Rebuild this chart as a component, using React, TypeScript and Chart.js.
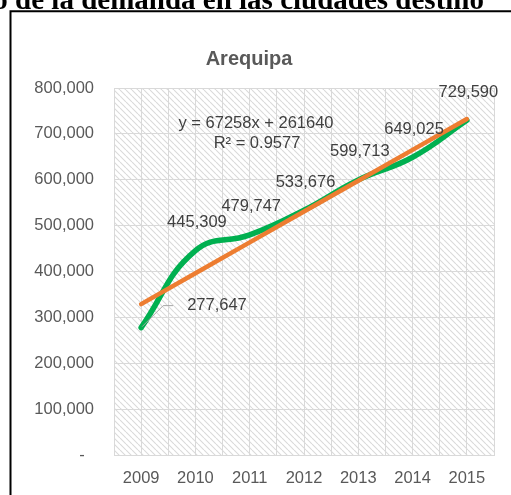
import React, { useEffect, useRef } from 'react';
import { Chart, registerables } from 'chart.js';

Chart.register(...registerables);

// ---- Data ----
const years = [2009, 2010, 2011, 2012, 2013, 2014, 2015];
const demand = [277647, 445309, 479747, 533676, 599713, 649025, 729590];
// Linear trendline values (y = 67258x + 261640, x = 1..7)
const trend = [328898, 396156, 463414, 530672, 597930, 665188, 732446];
const yMax = 800000;
const yStep = 100000;
const chartTitle = 'Arequipa';
const equationLines = ['y = 67258x + 261640', 'R² = 0.9577'];
const pageHeading = 'Crecimiento de la demanda en las ciudades destino';

const SANS = '"Liberation Sans", Arial, sans-serif';
const SERIF = '"Liberation Serif", "Times New Roman", serif';

function makePattern(ctx: CanvasRenderingContext2D) {
  const p = document.createElement('canvas');
  p.width = 6;
  p.height = 6;
  const c = p.getContext('2d')!;
  c.fillStyle = '#ffffff';
  c.fillRect(0, 0, 6, 6);
  c.strokeStyle = '#dadada';
  c.lineWidth = 1.1;
  c.beginPath();
  for (let o = -6; o <= 6; o += 6) {
    c.moveTo(o, 0);
    c.lineTo(o + 6, 6);
  }
  c.stroke();
  return ctx.createPattern(p, 'repeat');
}

const decorPlugin = {
  id: 'decor',
  beforeDraw(chart: any) {
    const { ctx, chartArea: a, width, height } = chart;
    ctx.save();
    ctx.fillStyle = '#ffffff';
    ctx.fillRect(0, 0, width, height);
    const pat = makePattern(ctx);
    if (pat) {
      ctx.fillStyle = pat;
      ctx.fillRect(a.left, a.top, a.right - a.left, a.bottom - a.top);
    }
    ctx.restore();
  },
  afterDraw(chart: any) {
    const { ctx, chartArea: a, width, height } = chart;
    ctx.save();
    // page heading (cut off at top)
    ctx.fillStyle = '#000000';
    ctx.font = `bold 29px ${SERIF}`;
    ctx.textAlign = 'right';
    ctx.textBaseline = 'alphabetic';
    ctx.fillText(pageHeading, 484, 8.5);

    // frame
    ctx.strokeStyle = '#000000';
    ctx.lineWidth = 2;
    ctx.beginPath();
    ctx.moveTo(10.5, height);
    ctx.lineTo(10.5, 11.3);
    ctx.lineTo(width, 11.3);
    ctx.stroke();

    // chart title
    ctx.fillStyle = '#595959';
    ctx.font = `bold 20px ${SANS}`;
    ctx.textAlign = 'center';
    ctx.textBaseline = 'alphabetic';
    ctx.fillText(chartTitle, 249, 65);

    // trend equation
    ctx.fillStyle = '#404040';
    ctx.font = `16.5px ${SANS}`;
    ctx.textBaseline = 'middle';
    ctx.fillText(equationLines[0], a.left + 142, a.top + 35);
    ctx.fillText(equationLines[1], a.left + 143, a.top + 55);

    // data labels
    const meta = chart.getDatasetMeta(1);
    meta.data.forEach((pt: any, i: number) => {
      const label = demand[i].toLocaleString('en-US');
      if (i === 0) {
        ctx.strokeStyle = '#a6a6a6';
        ctx.lineWidth = 1;
        ctx.beginPath();
        ctx.moveTo(pt.x + 1, pt.y - 1);
        ctx.lineTo(pt.x + 22, pt.y - 22);
        ctx.lineTo(pt.x + 32, pt.y - 22);
        ctx.stroke();
        ctx.textAlign = 'left';
        ctx.fillText(label, pt.x + 46, pt.y - 22);
      } else {
        ctx.textAlign = 'center';
        ctx.fillText(label, pt.x + 1.5, pt.y - 28);
      }
    });
    ctx.restore();
  },
};

export default function App() {
  const ref = useRef<HTMLCanvasElement>(null);

  useEffect(() => {
    const chart = new Chart(ref.current!, {
      type: 'line',
      data: {
        datasets: [
          {
            label: 'Lineal',
            data: years.map((y, i) => ({ x: y, y: trend[i] })),
            borderColor: '#ED7D31',
            borderWidth: 4.5,
            pointRadius: 0,
            borderCapStyle: 'round',
            tension: 0,
            clip: false as any,
          },
          {
            label: chartTitle,
            data: years.map((y, i) => ({ x: y, y: demand[i] })),
            borderColor: '#00B050',
            borderWidth: 5.5,
            pointRadius: 0,
            borderCapStyle: 'round',
            borderJoinStyle: 'round',
            tension: 0.45,
            clip: false as any,
          },
        ],
      },
      options: {
        animation: false,
        responsive: false,
        devicePixelRatio: 1,
        layout: { padding: { top: 88, right: 17, bottom: 0, left: 0 } },
        plugins: {
          legend: { display: false },
          tooltip: { enabled: false },
          title: { display: false },
        },
        scales: {
          x: {
            type: 'linear',
            min: years[0] - 0.5,
            max: years[years.length - 1] + 0.5,
            afterFit: (s: any) => {
              s.height = 40;
            },
            ticks: {
              stepSize: 0.5,
              autoSkip: false,
              maxRotation: 0,
              padding: 14,
              color: '#595959',
              font: { family: SANS, size: 16.5 },
              callback: (v: any) => (Number.isInteger(Number(v)) ? String(v) : ''),
            },
            grid: { color: '#D9D9D9', lineWidth: 1, drawTicks: false },
            border: { display: true, color: '#D9D9D9' },
          },
          y: {
            type: 'linear',
            min: 0,
            max: yMax,
            afterFit: (s: any) => {
              s.width = 114;
            },
            ticks: {
              stepSize: yStep,
              padding: 20,
              color: '#595959',
              font: { family: SANS, size: 16.5 },
              callback: (v: any) => (Number(v) === 0 ? '-  ' : Number(v).toLocaleString('en-US')),
            },
            grid: { color: '#D9D9D9', lineWidth: 1, drawTicks: false },
            border: { display: true, color: '#D9D9D9' },
          },
        },
      },
      plugins: [decorPlugin],
    } as any);
    return () => chart.destroy();
  }, []);

  return (
    <div
      style={{
        position: 'absolute',
        left: 0,
        top: 0,
        width: 511,
        height: 495,
        overflow: 'hidden',
        background: '#ffffff',
      }}
    >
      <canvas ref={ref} width={511} height={495} style={{ display: 'block' }} />
    </div>
  );
}
